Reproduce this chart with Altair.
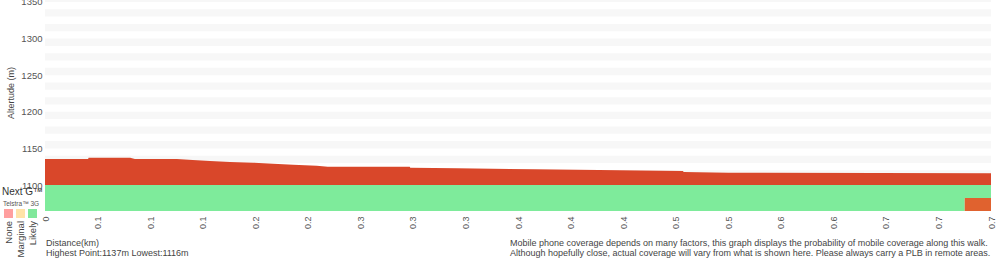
import altair as alt
import pandas as pd

# ---------------- data ----------------
tick_labels = ["0", "0.1", "0.1", "0.1", "0.2", "0.2", "0.3", "0.3", "0.3", "0.4",
               "0.4", "0.4", "0.5", "0.5", "0.6", "0.6", "0.7", "0.7", "0.7"]

profile_pos = [0, 0.82, 0.83, 1.62, 1.71, 2.51, 2.81, 3.14, 3.52, 3.96, 4.34, 4.72,
               5.17, 5.38, 6.94, 6.95, 7.84, 9.32, 10.94, 12.14, 12.15, 13.0, 18]
profile_elev = [1135.5, 1135.5, 1137.3, 1137.3, 1135.5, 1135.5, 1134.2, 1132.8, 1131.4,
                1130.5, 1129.1, 1127.7, 1126.4, 1125.0, 1125.0, 1123.6, 1122.8, 1121.4,
                1120.1, 1119.1, 1117.8, 1116.8, 1116.2]

stripe_lo = [1110, 1130, 1150, 1170, 1190, 1210, 1230, 1250, 1270, 1290, 1310, 1330, 1350]

cov_network = ["Next G™", "Telstra™ 3G", "Telstra™ 3G"]
cov_start = [0, 0, 17.5]
cov_end = [18, 17.5, 18]
cov_level = ["Likely", "Likely", "Unknown"]

level_names = ["None", "Marginal", "Likely", "Unknown"]
level_colors = ["#ff9f9f", "#ffe3a8", "#7eeb9b", "#e0622f"]
legend_names = ["None", "Marginal", "Likely"]
legend_colors = ["#ff9f9f", "#ffe3a8", "#80e89b"]

y_ticks = [1100, 1150, 1200, 1250, 1300, 1350]

FONT = "Liberation Sans"
W, H = 946, 211

profile = pd.DataFrame({"pos": profile_pos, "elev": profile_elev})
stripes = pd.DataFrame({"lo": stripe_lo, "hi": [v + 10 for v in stripe_lo]})
coverage = pd.DataFrame({"network": cov_network, "start": cov_start,
                         "end": cov_end, "level": cov_level})

label_expr = "[" + ",".join(f"'{t}'" for t in tick_labels) + "][datum.value]"

x_scale = alt.Scale(domain=[0, 18], nice=False, zero=False)
y_scale = alt.Scale(domain=[1100, 1352.7], range=[185, 0], nice=False, zero=False)

x_axis = alt.Axis(values=list(range(len(tick_labels))), labelExpr=label_expr,
                  labelAngle=270, labelAlign="right", labelBaseline="middle",
                  labelPadding=5, labelFontSize=9, labelColor="#555", labelFont=FONT,
                  ticks=False, domain=False, grid=False, title=None, labelOverlap=False)

y_axis = alt.Axis(values=y_ticks, format="d", labelFontSize=9.5, labelColor="#555",
                  labelFont=FONT, labelPadding=3, ticks=False, domain=False, grid=False,
                  title="Altertude (m)", titleFontSize=9, titleFontWeight="normal",
                  titleColor="#444", titleFont=FONT, titlePadding=5, orient="left")

stripe_layer = alt.Chart(stripes).mark_rect(color="#f7f7f7", clip=True).encode(
    x=alt.value(0), x2=alt.value(W),
    y=alt.Y("lo:Q", scale=y_scale, axis=y_axis), y2="hi:Q")

area_layer = alt.Chart(profile).mark_area(color="#d9472a", clip=True, interpolate="linear").encode(
    x=alt.X("pos:Q", scale=x_scale, axis=x_axis),
    y=alt.Y("elev:Q", scale=y_scale, axis=y_axis),
    y2=alt.datum(1100))

elev_group = alt.layer(stripe_layer, area_layer)

band_layer = alt.Chart(coverage).mark_rect().encode(
    x=alt.X("start:Q", scale=x_scale, axis=x_axis), x2="end:Q",
    y=alt.Y("network:N", sort=["Next G™", "Telstra™ 3G"],
            scale=alt.Scale(range=[185, 211], paddingInner=0, paddingOuter=0), axis=None),
    color=alt.Color("level:N", scale=alt.Scale(domain=level_names, range=level_colors), legend=None))

def text_layer(txt, x, y, size=9, color="#444", align="left", angle=0, baseline="middle"):
    kw = dict(fontSize=size, color=color, align=align, baseline=baseline, font=FONT)
    if angle:
        kw["angle"] = angle
    return alt.Chart(pd.DataFrame({"t": [txt]})).mark_text(**kw).encode(
        text="t:N", x=alt.value(x), y=alt.value(y))

layers = [elev_group, band_layer]

layers.append(text_layer("Next G™", -43, 192, size=10, color="#333"))
layers.append(text_layer("Telstra™ 3G", -42, 204, size=6.5, color="#555"))

leg_x = [-41, -29, -17]
for name, col, lx in zip(legend_names, legend_colors, leg_x):
    layers.append(alt.Chart(pd.DataFrame({"n": [name]})).mark_rect(color=col).encode(
        x=alt.value(lx), x2=alt.value(lx + 9), y=alt.value(209), y2=alt.value(218)))
    layers.append(text_layer(name, lx + 4.5, 221, size=9.5, color="#444",
                             align="right", angle=270))

layers.append(text_layer("Distance(km)", 1, 243))
layers.append(text_layer("Highest Point:1137m Lowest:1116m", 1, 253))
layers.append(text_layer("Mobile phone coverage depends on many factors, this graph displays the probability of mobile coverage along this walk.", 465, 243))
layers.append(text_layer("Although hopefully close, actual coverage will vary from what is shown here. Please always carry a PLB in remote areas.", 465, 253))

chart = alt.layer(*layers).resolve_scale(y="independent").properties(
    width=W, height=H,
    autosize=alt.AutoSizeParams(type="none"),
    padding={"left": 45, "top": 0, "right": 9, "bottom": 49},
    background="white",
).configure_view(stroke=None)

chart.save("out.html", embed_options={"renderer": "svg", "actions": False})
